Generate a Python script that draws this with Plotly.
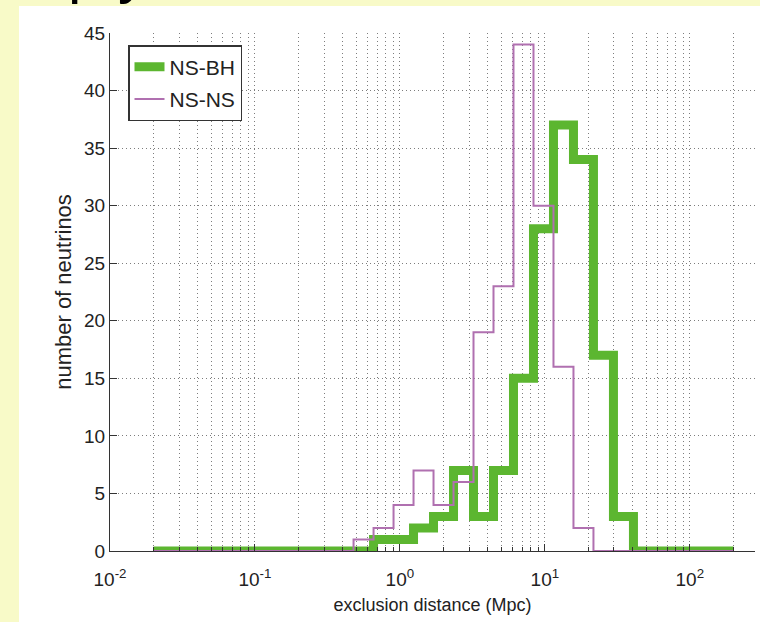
import numpy as np
import plotly.graph_objects as go

# ---- data ----
# histogram bin edges (29 log-spaced bins from 0.02 to 200 Mpc)
bin_edges = np.logspace(np.log10(0.02), np.log10(200), 30)
ns_bh_counts = [0, 0, 0, 0, 0, 0, 0, 0, 0, 0, 0,
                1, 1, 2, 3, 7, 3, 7, 15, 28, 37, 34, 17, 3,
                0, 0, 0, 0, 0]
ns_ns_counts = [0, 0, 0, 0, 0, 0, 0, 0, 0, 0,
                1, 2, 4, 7, 4, 6, 19, 23, 44, 30, 16, 2,
                0, 0, 0, 0, 0, 0, 0]
series_names = ["NS-BH", "NS-NS"]
x_tick_vals = [0.01, 0.1, 1, 10, 100]
x_tick_text = ["10<sup>-2</sup>", "10<sup>-1</sup>", "10<sup>0</sup>",
               "10<sup>1</sup>", "10<sup>2</sup>"]
y_tick_vals = [0, 5, 10, 15, 20, 25, 30, 35, 40, 45]
x_title = "exclusion distance (Mpc)"
y_title = "number of neutrinos"
slide_title = "Empty"  # slide title, cropped at the top edge

W, H = 760, 622
L, R, T, B = 110, 5, 33, 71
pw, ph = W - L - R, H - T - B


def px_x(p):
    return (p - L) / pw


def px_y(p):
    return (H - B - p) / ph


minor_vals = [d * m for d in x_tick_vals for m in range(2, 10) if d * m < 280]

GREEN = "rgb(92,182,48)"
PURPLE = "rgb(176,112,176)"
FONT = "Liberation Sans, Arial, sans-serif"

fig = go.Figure()
fig.add_trace(go.Scatter(
    x=list(bin_edges), y=ns_bh_counts + [ns_bh_counts[-1]],
    mode="lines", line=dict(shape="hv", color=GREEN, width=9),
    name=series_names[0], legendgroup="a"))
fig.add_trace(go.Scatter(
    x=list(bin_edges), y=ns_ns_counts + [ns_ns_counts[-1]],
    mode="lines", line=dict(shape="hv", color=PURPLE, width=2),
    name=series_names[1], legendgroup="b"))

grid_col = "rgba(70,70,70,0.7)"
GDASH = "1px,3px"
fig.update_xaxes(
    type="log", range=[-2, 2.45],
    tickvals=x_tick_vals, ticktext=x_tick_text,
    ticks="inside", ticklen=7, tickcolor="#333",
    showline=True, linecolor="#333", linewidth=1.2,
    showgrid=True, gridcolor=grid_col, griddash=GDASH, gridwidth=1,
    minor=dict(tickvals=minor_vals, ticks="inside", ticklen=4, tickcolor="#333",
               showgrid=True, gridcolor=grid_col, griddash=GDASH, gridwidth=1),
    tickfont=dict(family=FONT, size=19, color="#222"),
    ticklabelstandoff=11,
    title=dict(text=x_title, font=dict(family=FONT, size=18, color="#222"), standoff=9),
    zeroline=False, automargin=False,
)
fig.update_yaxes(
    range=[0, 45], tickvals=y_tick_vals,
    ticks="inside", ticklen=7, tickcolor="#333",
    showline=True, linecolor="#333", linewidth=1.2,
    showgrid=True, gridcolor=grid_col, griddash=GDASH, gridwidth=1,
    tickfont=dict(family=FONT, size=19, color="#222"),
    title=dict(text=y_title, font=dict(family=FONT, size=22, color="#222"), standoff=6),
    zeroline=False, automargin=False,
)

fig.update_layout(
    width=W, height=H,
    margin=dict(l=L, r=R, t=T, b=B, pad=0),
    paper_bgcolor="rgb(248,250,200)",
    plot_bgcolor="white",
    showlegend=True,
    legend=dict(x=px_x(128), y=px_y(45), xanchor="left", yanchor="top",
                bgcolor="white", bordercolor="#333", borderwidth=1.5,
                font=dict(family=FONT, size=21, color="#222"),
                traceorder="grouped", tracegroupgap=2),
    shapes=[dict(type="rect", xref="paper", yref="paper",
                 x0=px_x(19), x1=px_x(W + 5), y0=px_y(H + 5), y1=px_y(6),
                 fillcolor="white", line=dict(width=0), layer="below")],
    annotations=[dict(text=slide_title, xref="paper", yref="paper",
                      x=px_x(-24), y=px_y(-28), xanchor="left", yanchor="middle",
                      showarrow=False,
                      font=dict(family=FONT, size=60, color="black"))],
)

fig.write_html("out.html", config={"displayModeBar": False},
               post_script="document.body.style.margin='0px';")
